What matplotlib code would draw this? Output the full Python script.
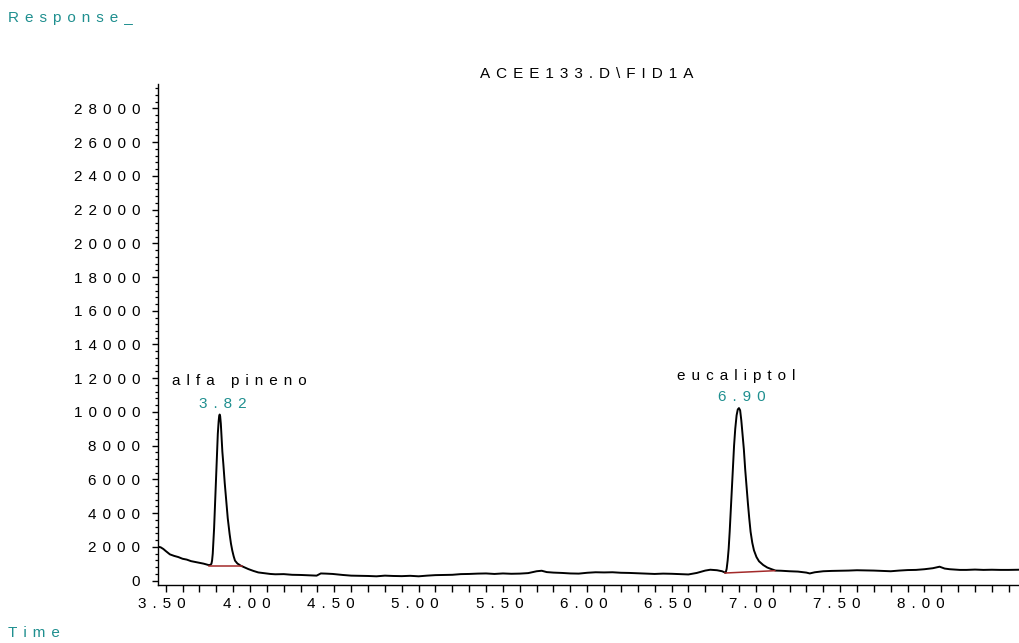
import matplotlib
matplotlib.use("Agg")
import matplotlib.pyplot as plt
from matplotlib.ticker import MultipleLocator, FuncFormatter
from matplotlib.transforms import ScaledTranslation

plt.rcParams["font.family"] = ["Liberation Sans", "DejaVu Sans"]

# FID1A signal, ACEE133.D (retention time in min, detector response)
time_min = [
    3.456, 3.470, 3.486, 3.500, 3.525, 3.550, 3.575, 3.600, 3.625, 3.650,
    3.675, 3.700, 3.725, 3.743, 3.757, 3.766, 3.771, 3.775, 3.779, 3.783,
    3.787, 3.792, 3.798, 3.804, 3.809, 3.814, 3.817, 3.820, 3.823, 3.827,
    3.831, 3.836, 3.842, 3.850, 3.859, 3.868, 3.879, 3.887, 3.895, 3.903,
    3.911, 3.925, 3.945, 3.970, 3.990, 4.020, 4.049, 4.080, 4.120, 4.150,
    4.200, 4.250, 4.300, 4.350, 4.395, 4.420, 4.450, 4.490, 4.550, 4.600,
    4.650, 4.700, 4.750, 4.800, 4.850, 4.900, 4.950, 5.000, 5.050, 5.100,
    5.150, 5.200, 5.250, 5.300, 5.350, 5.400, 5.450, 5.500, 5.550, 5.600,
    5.650, 5.700, 5.730, 5.760, 5.800, 5.850, 5.900, 5.950, 6.000, 6.050,
    6.100, 6.150, 6.200, 6.250, 6.300, 6.350, 6.400, 6.450, 6.500, 6.550,
    6.600, 6.650, 6.700, 6.730, 6.770, 6.800, 6.821, 6.827, 6.833, 6.839,
    6.845, 6.851, 6.857, 6.864, 6.871, 6.878, 6.886, 6.893, 6.900, 6.907,
    6.914, 6.921, 6.929, 6.937, 6.945, 6.953, 6.961, 6.969, 6.979, 6.989,
    7.004, 7.019, 7.044, 7.068, 7.094, 7.117, 7.150, 7.200, 7.250, 7.300,
    7.320, 7.350, 7.400, 7.450, 7.500, 7.550, 7.600, 7.650, 7.700, 7.750,
    7.800, 7.850, 7.900, 7.950, 8.000, 8.050, 8.090, 8.120, 8.150, 8.210,
    8.250, 8.300, 8.350, 8.400, 8.450, 8.500, 8.561,
]
response = [
    2010, 1980, 1880, 1760, 1560, 1470, 1400, 1300, 1250, 1160,
    1110, 1060, 1010, 960, 920, 950, 1000, 1190, 1600, 2300,
    3100, 4400, 6000, 7600, 8700, 9450, 9750, 9850, 9750, 9300,
    8600, 7650, 6900, 5800, 4750, 3700, 2770, 2200, 1780, 1450,
    1190, 1020, 890, 780, 690, 580, 490, 450, 400, 380,
    390, 350, 340, 320, 300, 430, 420, 400, 340, 300,
    290, 280, 260, 300, 280, 270, 290, 260, 300, 330,
    340, 350, 390, 400, 420, 430, 400, 430, 410, 420,
    450, 560, 590, 510, 480, 460, 430, 420, 470, 500,
    490, 500, 470, 460, 440, 420, 400, 420, 410, 390,
    370, 460, 600, 650, 620, 560, 470, 700, 1200, 1900,
    2900, 4100, 5300, 6700, 8000, 9000, 9800, 10150, 10230, 10100,
    9500, 8700, 7800, 6600, 5600, 4600, 3700, 2900, 2250, 1800,
    1400, 1150, 930, 780, 680, 600, 590, 560, 540, 480,
    430, 500, 560, 580, 590, 600, 620, 610, 600, 580,
    560, 600, 630, 640, 680, 740, 830, 720, 680, 640,
    640, 660, 640, 650, 640, 640, 650,
]

# Identified peaks
peak_names = ["alfa pineno", "eucaliptol"]
peak_rt = [3.82, 6.90]

# Integration baselines drawn under each peak
base_t0 = [3.757, 6.817]
base_v0 = [850, 455]
base_t1 = [3.955, 7.113]
base_v1 = [850, 593]

x_label_max = 8.00
y_tick_step = 2000
y_minor_step = 400

TEAL = "#1f8f8f"
FS = 11
GAP = "\u2009\u2009"


def spaced(s):
    return GAP.join(s)


fig = plt.figure(figsize=(10.19, 6.43), dpi=100)
ax = fig.add_axes([158 / 1019, 58 / 643, (1019 - 158) / 1019, (585 - 84) / 643])

ax.plot(time_min, response, color="black", lw=1.4, solid_joinstyle="round")

for t0, v0, t1, v1 in zip(base_t0, base_v0, base_t1, base_v1):
    ax.plot([t0, t1], [v0, v1], color="#a32a2a", lw=1.1)

# Peak annotations: retention time and compound name above each apex
name_offsets = [(20, 34), (-3, 32)]
rt_offsets = [(3, 11), (3, 11)]
for name, rt, noff, roff in zip(peak_names, peak_rt, name_offsets, rt_offsets):
    i = min(range(len(time_min)), key=lambda k: abs(time_min[k] - rt))
    apex = response[i]
    ax.annotate(spaced(f"{rt:.2f}"), (rt, apex), xytext=roff,
                textcoords="offset pixels", ha="center", va="center",
                color=TEAL, fontsize=FS)
    ax.annotate(spaced(name), (rt, apex), xytext=noff,
                textcoords="offset pixels", ha="center", va="center",
                color="black", fontsize=FS)

ax.set_xlim(3.4543, 8.561)
ax.set_ylim(-255, 29440)

for side in ("top", "right"):
    ax.spines[side].set_visible(False)
for side in ("left", "bottom"):
    ax.spines[side].set_linewidth(1.0)


def xfmt(x, pos):
    if abs(x * 2 - round(x * 2)) < 1e-6 and x <= x_label_max + 1e-6:
        return spaced(f"{x:.2f}")
    return ""


def yfmt(y, pos):
    return spaced(f"{int(round(y))}")


ax.xaxis.set_major_locator(MultipleLocator(0.1))
ax.xaxis.set_major_formatter(FuncFormatter(xfmt))
ax.yaxis.set_major_locator(MultipleLocator(y_tick_step))
ax.yaxis.set_minor_locator(MultipleLocator(y_minor_step))
ax.yaxis.set_major_formatter(FuncFormatter(yfmt))

ax.tick_params(axis="x", which="major", direction="out", length=5, width=1.0,
               pad=3.6, labelsize=FS)
ax.tick_params(axis="y", which="major", direction="out", length=4.3, width=1.0,
               pad=8.6, labelsize=FS)
ax.tick_params(axis="y", which="minor", direction="out", length=2.4, width=0.9)

fig.canvas.draw()
shift = ScaledTranslation(-3.5 / 100, 0, fig.dpi_scale_trans)
for lab in ax.get_xticklabels():
    lab.set_transform(lab.get_transform() + shift)

fig.text(587 / 1019, 1 - 78.5 / 643, spaced("ACEE133.D\\FID1A"),
         ha="center", va="baseline", fontsize=FS, color="black")
fig.text(8 / 1019, 1 - 21.7 / 643, spaced("Response_"),
         ha="left", va="baseline", fontsize=FS, color=TEAL)
fig.text(8 / 1019, 1 - 637 / 643, spaced("Time"),
         ha="left", va="baseline", fontsize=FS, color=TEAL)

fig.savefig("out.png", dpi=100)
